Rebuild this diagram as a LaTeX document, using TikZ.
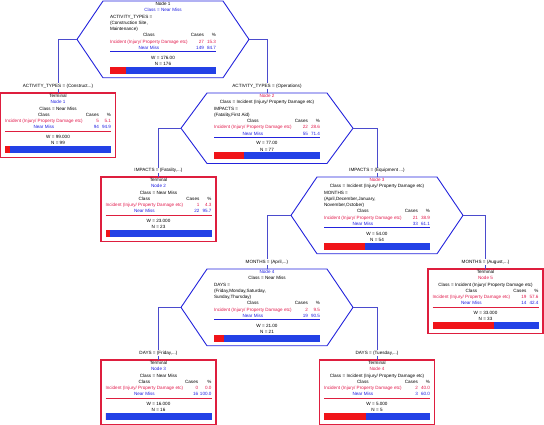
\documentclass[tikz,border=0pt]{standalone}
\usepackage{fontspec}
\setmainfont{Liberation Sans}
\usepackage{xcolor}
\usepackage{tikz}
\usetikzlibrary{positioning,calc}
\definecolor{hexazul}{RGB}{35,35,220}
\definecolor{termverm}{RGB}{222,30,62}
\definecolor{incid}{RGB}{225,25,75}
\definecolor{nmazul}{RGB}{30,30,225}
\definecolor{barverm}{RGB}{240,20,25}
\definecolor{barazul}{RGB}{35,65,230}
\definecolor{ligazul}{RGB}{75,75,205}
\setlength{\tabcolsep}{0.8pt}
\newcommand{\miudo}{\fontsize{4.6}{6.3}\selectfont}
\newcommand{\centro}[1]{\multicolumn{3}{c}{#1}\\}
\newcommand{\esq}[1]{\multicolumn{3}{@{}l}{#1}\\}
\newcommand{\cabTab}{Class & Cases & \%\\}
\newcommand{\linhaInc}[2]{\textcolor{incid}{Incident (Injury/ Property Damage etc)} & \textcolor{incid}{#1} & \textcolor{incid}{#2}\\}
\newcommand{\linhaNM}[2]{\textcolor{nmazul}{Near Miss} & \textcolor{nmazul}{#1} & \textcolor{nmazul}{#2}\\}
\newcommand{\regua}[1]{\noalign{{\color{#1}\hrule height 0.7pt}\vskip 2.5pt}}
\newenvironment{dados}{\begin{tabular*}{106pt}{@{\extracolsep{\fill}}crr@{}}}{\end{tabular*}}
\newcommand{\contornoHex}[1]{\draw[bordaHex] (#1.west) -- ($(#1.north west)+(26pt,0)$) -- ($(#1.north east)+(-26pt,0)$) -- (#1.east) -- ($(#1.south east)+(-26pt,0)$) -- ($(#1.south west)+(26pt,0)$) -- cycle;}
\tikzset{
    hexagono/.style={
        inner sep=0pt,
        outer sep=0pt,
        minimum width=172pt
    },
    bordaHex/.style={draw=hexazul, line width=0.9pt},
    terminal/.style={
        rectangle,
        draw=termverm,
        line width=1.2pt,
        inner sep=0pt,
        outer sep=0pt,
        minimum width=115pt,
        minimum height=64.2pt
    },
    conteudo/.style={inner sep=0pt, outer sep=0pt},
    barra/.style={
        inner sep=0pt,
        outer sep=0pt,
        minimum width=106pt,
        minimum height=7pt,
        fill=barazul,
        path picture={\fill[barverm] (path picture bounding box.south west) rectangle ++(1.06*#1pt,7pt);}
    },
    ligacao/.style={draw=ligazul, line width=0.6pt},
    rotulo/.style={fill=white, inner sep=0.6pt}
}

\begin{document}
\begin{tikzpicture}[x=1pt, y=1pt, font=\miudo]
    \useasboundingbox (0,0) rectangle (544,425);

    % no 1
    \node[hexagono, minimum height=76.8pt, anchor=north] (no1) at (163,424) {};
    \contornoHex{no1}
    \node[conteudo, below=0pt of no1.north] (no1txt) {\begin{dados}
        \centro{Node 1}
        \centro{\textcolor{nmazul}{Class = Near Miss}}
        \esq{ACTIVITY\_TYPES =}
        \esq{(Construction Site,}
        \esq{Maintenance)}
        \cabTab
        \linhaInc{27}{15.3}
        \linhaNM{149}{84.7}
        \regua{hexazul}
        \centro{W = 176.00}
        \centro{N = 176}
    \end{dados}};
    \node[barra=15.3, below=-0.4pt of no1txt] (no1bar) {};

    % terminal 1
    \node[terminal, anchor=north] (t1) at (58,332) {};
    \node[conteudo, below=0pt of t1.north] (t1txt) {\begin{dados}
        \centro{Terminal}
        \centro{\textcolor{nmazul}{Node 1}}
        \centro{Class = Near Miss}
        \cabTab
        \linhaInc{5}{5.1}
        \linhaNM{94}{94.9}
        \regua{termverm}
        \centro{W = 99.000}
        \centro{N = 99}
    \end{dados}};
    \node[barra=5.1, below=-0.4pt of t1txt] (t1bar) {};

    % no 2
    \node[hexagono, minimum height=70.5pt, anchor=north] (no2) at (267,332) {};
    \contornoHex{no2}
    \node[conteudo, below=0pt of no2.north] (no2txt) {\begin{dados}
        \centro{\textcolor{incid}{Node 2}}
        \centro{Class = Incident (Injury/ Property Damage etc)}
        \esq{IMPACTS =}
        \esq{(Fatality,First Aid)}
        \cabTab
        \linhaInc{22}{28.6}
        \linhaNM{55}{71.4}
        \regua{hexazul}
        \centro{W = 77.00}
        \centro{N = 77}
    \end{dados}};
    \node[barra=28.6, below=-0.4pt of no2txt] (no2bar) {};

    % terminal 2
    \node[terminal, anchor=north] (t2) at (158.5,248) {};
    \node[conteudo, below=0pt of t2.north] (t2txt) {\begin{dados}
        \centro{Terminal}
        \centro{\textcolor{nmazul}{Node 2}}
        \centro{Class = Near Miss}
        \cabTab
        \linhaInc{1}{4.3}
        \linhaNM{22}{95.7}
        \regua{termverm}
        \centro{W = 23.000}
        \centro{N = 23}
    \end{dados}};
    \node[barra=4.3, below=-0.4pt of t2txt] (t2bar) {};

    % no 3
    \node[hexagono, minimum height=76.8pt, anchor=north] (no3) at (377,248) {};
    \contornoHex{no3}
    \node[conteudo, below=0pt of no3.north] (no3txt) {\begin{dados}
        \centro{\textcolor{incid}{Node 3}}
        \centro{Class = Incident (Injury/ Property Damage etc)}
        \esq{MONTHS =}
        \esq{(April,December,January,}
        \esq{November,October)}
        \cabTab
        \linhaInc{21}{38.9}
        \linhaNM{33}{61.1}
        \regua{hexazul}
        \centro{W = 54.00}
        \centro{N = 54}
    \end{dados}};
    \node[barra=38.9, below=-0.4pt of no3txt] (no3bar) {};

    % terminal 5
    \node[terminal, anchor=north] (t5) at (485.5,156) {};
    \node[conteudo, below=0pt of t5.north] (t5txt) {\begin{dados}
        \centro{Terminal}
        \centro{\textcolor{incid}{Node 5}}
        \centro{Class = Incident (Injury/ Property Damage etc)}
        \cabTab
        \linhaInc{19}{57.6}
        \linhaNM{14}{42.4}
        \regua{termverm}
        \centro{W = 33.000}
        \centro{N = 33}
    \end{dados}};
    \node[barra=57.6, below=-0.4pt of t5txt] (t5bar) {};

    % no 4
    \node[hexagono, minimum height=76.8pt, anchor=north] (no4) at (267,156) {};
    \contornoHex{no4}
    \node[conteudo, below=0pt of no4.north] (no4txt) {\begin{dados}
        \centro{\textcolor{nmazul}{Node 4}}
        \centro{Class = Near Miss}
        \esq{DAYS =}
        \esq{(Friday,Monday,Saturday,}
        \esq{Sunday,Thursday)}
        \cabTab
        \linhaInc{2}{9.5}
        \linhaNM{19}{90.5}
        \regua{hexazul}
        \centro{W = 21.00}
        \centro{N = 21}
    \end{dados}};
    \node[barra=9.5, below=-0.4pt of no4txt] (no4bar) {};

    % terminal 3
    \node[terminal, anchor=north] (t3) at (158.5,65) {};
    \node[conteudo, below=0pt of t3.north] (t3txt) {\begin{dados}
        \centro{Terminal}
        \centro{\textcolor{nmazul}{Node 3}}
        \centro{Class = Near Miss}
        \cabTab
        \linhaInc{0}{0.0}
        \linhaNM{16}{100.0}
        \regua{termverm}
        \centro{W = 16.000}
        \centro{N = 16}
    \end{dados}};
    \node[barra=0, below=-0.4pt of t3txt] (t3bar) {};

    % terminal 4
    \node[terminal, anchor=north] (t4) at (377,65) {};
    \node[conteudo, below=0pt of t4.north] (t4txt) {\begin{dados}
        \centro{Terminal}
        \centro{\textcolor{incid}{Node 4}}
        \centro{Class = Incident (Injury/ Property Damage etc)}
        \cabTab
        \linhaInc{2}{40.0}
        \linhaNM{3}{60.0}
        \regua{termverm}
        \centro{W = 5.000}
        \centro{N = 5}
    \end{dados}};
    \node[barra=40.0, below=-0.4pt of t4txt] (t4bar) {};

    \draw[ligacao] (no1.west) -| node[rotulo, pos=.935] {ACTIVITY\_TYPES = (Construct...)} (t1.north);
    \draw[ligacao] (no1.east) -| node[rotulo, pos=.935] {ACTIVITY\_TYPES = (Operations)} (no2.north);
    \draw[ligacao] (no2.west) -| node[rotulo, pos=.933] {IMPACTS = (Fatality,...)} (t2.north);
    \draw[ligacao] (no2.east) -| node[rotulo, pos=.933] {IMPACTS = (Equipment ...)} (no3.north);
    \draw[ligacao] (no3.west) -| node[rotulo, pos=.935] {MONTHS = (April,...)} (no4.north);
    \draw[ligacao] (no3.east) -| node[rotulo, pos=.935] {MONTHS = (August,...)} (t5.north);
    \draw[ligacao] (no4.west) -| node[rotulo, pos=.935] {DAYS = (Friday,...)} (t3.north);
    \draw[ligacao] (no4.east) -| node[rotulo, pos=.935] {DAYS = (Tuesday,...)} (t4.north);
\end{tikzpicture}
\end{document}
